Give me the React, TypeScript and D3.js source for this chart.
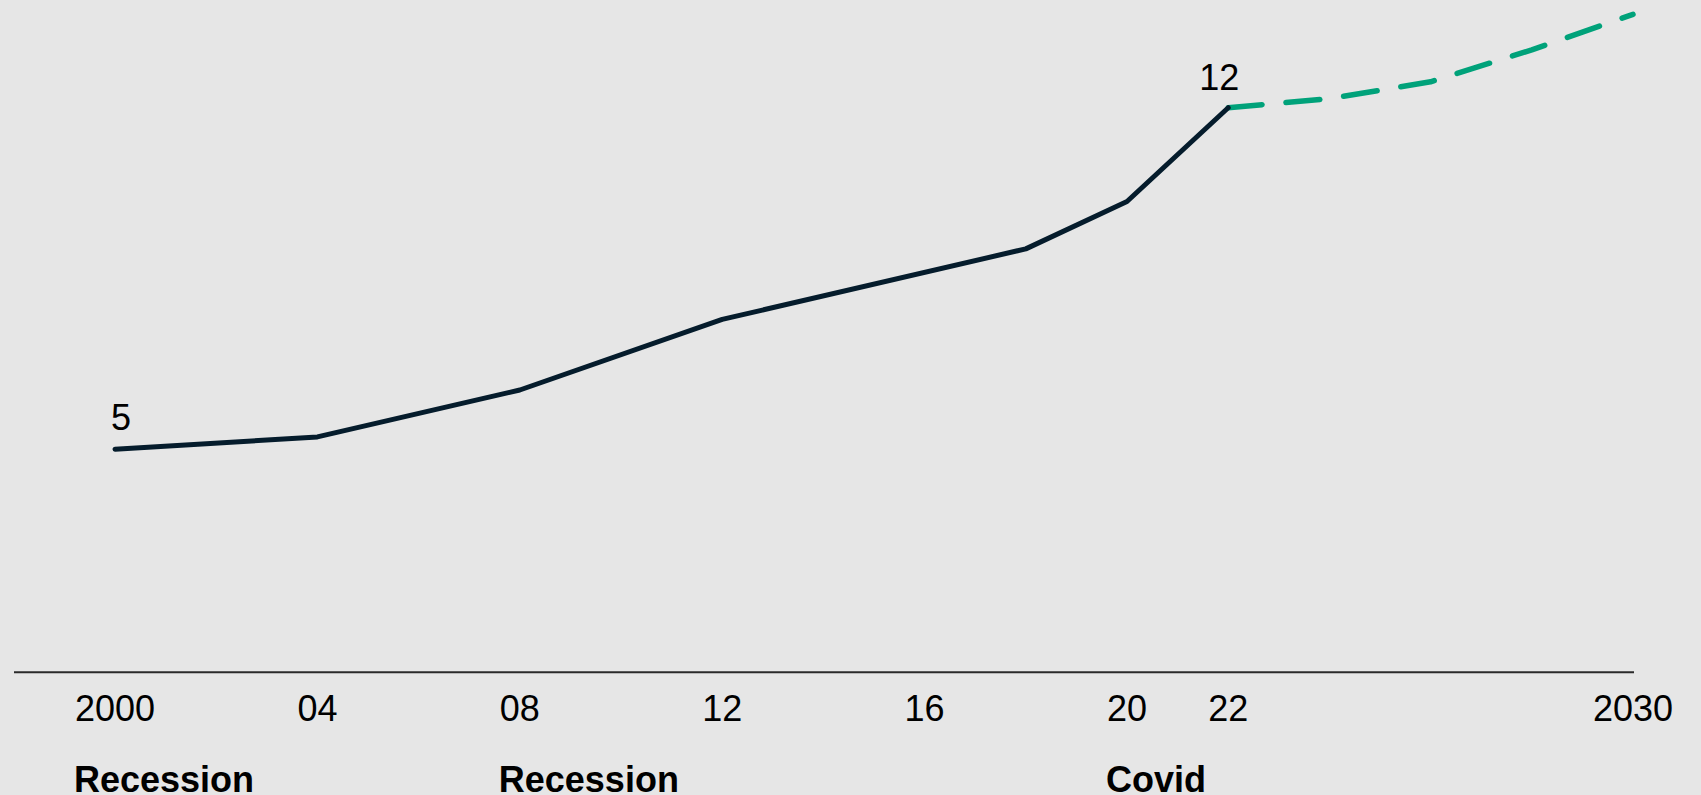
import React from "react";
import * as d3 from "d3";

// ---- data ----
const histYears = [2000, 2004, 2008, 2012, 2018, 2020, 2022];
const histValues = [4.9, 5.17, 6.2, 7.75, 9.3, 10.34, 12.4];
const forecastYears = [2022, 2024, 2026, 2028, 2030];
const forecastValues = [12.4, 12.6, 12.97, 13.67, 14.45];
const tickYears = [2000, 2004, 2008, 2012, 2016, 2020, 2022, 2030];
const tickLabels = ["2000", "04", "08", "12", "16", "20", "22", "2030"];
const eventYears = [2000, 2008, 2020];
const eventLabels = ["Recession", "Recession", "Covid"];
const endpointYears = [2000, 2022];
const endpointValues = [4.9, 12.4];

const W = 1701;
const H = 795;
const FONT = "Arial, 'Liberation Sans', sans-serif";
const FS = 36;

export default function App() {
  const x = d3.scaleLinear().domain([2000, 2030]).range([115, 1633]);
  const y = d3.scaleLinear().domain([0, 14.5]).range([672.3, 12.1]);

  const hist = histYears.map((yr, i) => [yr, histValues[i]] as [number, number]);
  const fc = forecastYears.map((yr, i) => [yr, forecastValues[i]] as [number, number]);
  const line = d3
    .line<[number, number]>()
    .x((d) => x(d[0]))
    .y((d) => y(d[1]));

  const fmt = d3.format(".0f");

  return (
    <>
      <style>{`html,body{margin:0;padding:0;background:#e6e6e6;overflow:hidden}`}</style>
      <svg width={W} height={H} style={{ display: "block", background: "#e6e6e6" }}>
        {/* baseline axis */}
        <line x1={14} x2={1634} y1={y(0)} y2={y(0)} stroke="#2a2a2a" strokeWidth={2} />

        {/* tick labels */}
        {tickYears.map((yr, i) => (
          <text
            key={"t" + i}
            x={x(yr)}
            y={721}
            textAnchor="middle"
            fontFamily={FONT}
            fontSize={FS}
            fill="#000"
          >
            {tickLabels[i]}
          </text>
        ))}

        {/* event labels, left-aligned with tick label */}
        {eventYears.map((yr, i) => {
          const lbl = tickLabels[tickYears.indexOf(yr)];
          const half = (lbl.length * 0.556 * FS) / 2;
          return (
            <text
              key={"e" + i}
              x={x(yr) - half - 1}
              y={792}
              textAnchor="start"
              fontFamily={FONT}
              fontSize={FS}
              fontWeight="bold"
              fill="#000"
            >
              {eventLabels[i]}
            </text>
          );
        })}

        {/* forecast dashed line */}
        <path
          d={line(fc) || ""}
          fill="none"
          stroke="#00a27a"
          strokeWidth={5.5}
          strokeLinecap="round"
          strokeLinejoin="round"
          strokeDasharray="34 24"
        />

        {/* historical line */}
        <path
          d={line(hist) || ""}
          fill="none"
          stroke="#051c2c"
          strokeWidth={5}
          strokeLinecap="round"
          strokeLinejoin="round"
        />

        {/* endpoint value labels */}
        {endpointYears.map((yr, i) => (
          <text
            key={"v" + i}
            x={i === 0 ? x(yr) - 4 : x(yr) + 11}
            y={y(endpointValues[i]) - (i === 0 ? 19 : 18)}
            textAnchor={i === 0 ? "start" : "end"}
            fontFamily={FONT}
            fontSize={FS}
            fill="#000"
          >
            {fmt(endpointValues[i])}
          </text>
        ))}
      </svg>
    </>
  );
}
